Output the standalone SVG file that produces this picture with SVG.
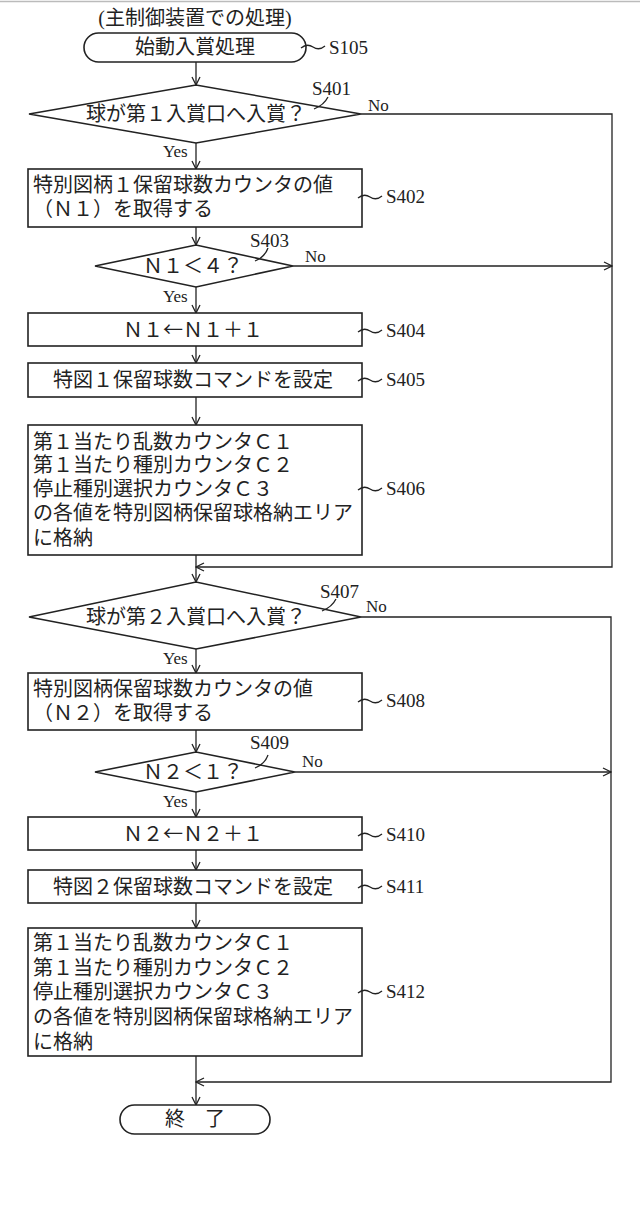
<svg xmlns="http://www.w3.org/2000/svg" width="640" height="1220" viewBox="0 0 640 1220">
<style>
text{font-family:"Liberation Serif","Noto Sans CJK JP",serif;fill:#222}
.t{font-size:20px}
.c{text-anchor:middle}
.l{font-size:19px}
.s{font-size:17px}
.j{font-family:"Noto Sans CJK JP",serif}
.n{fill:#fff;stroke:#222;stroke-width:1.6}
.e{fill:none;stroke:#222;stroke-width:1.3}
</style>
<defs>
<marker id="a" markerWidth="10" markerHeight="10" refX="9" refY="5" orient="auto" markerUnits="userSpaceOnUse">
<path d="M1,1 L9,5 L1,9" fill="none" stroke="#222" stroke-width="1.3"/>
</marker>
</defs>
<line x1="0" y1="1.5" x2="640" y2="1.5" stroke="#bbb" stroke-width="1.5"/>
<text class="t c" x="195" y="25">(主制御装置での処理)</text>
<g id="connectors" class="e">
<line x1="196" y1="62" x2="196" y2="85" marker-end="url(#a)"/>
<line x1="196" y1="143" x2="196" y2="169" marker-end="url(#a)"/>
<polyline points="361,114 612,114 612,567 196,567" marker-end="url(#a)"/>
<line x1="196" y1="227" x2="196" y2="245" marker-end="url(#a)"/>
<line x1="293" y1="266" x2="612" y2="266" marker-end="url(#a)"/>
<line x1="196" y1="287" x2="196" y2="313" marker-end="url(#a)"/>
<line x1="196" y1="346" x2="196" y2="363" marker-end="url(#a)"/>
<line x1="196" y1="397" x2="196" y2="425" marker-end="url(#a)"/>
<line x1="196" y1="555" x2="196" y2="582" marker-end="url(#a)"/>
<line x1="196" y1="649" x2="196" y2="673" marker-end="url(#a)"/>
<polyline points="361,617 611,617 611,1082 196,1082" marker-end="url(#a)"/>
<line x1="196" y1="730" x2="196" y2="752" marker-end="url(#a)"/>
<line x1="295" y1="772" x2="611" y2="772" marker-end="url(#a)"/>
<line x1="196" y1="792" x2="196" y2="817" marker-end="url(#a)"/>
<line x1="196" y1="850" x2="196" y2="870" marker-end="url(#a)"/>
<line x1="196" y1="903" x2="196" y2="928" marker-end="url(#a)"/>
<line x1="196" y1="1056" x2="196" y2="1105" marker-end="url(#a)"/>
</g>
<g id="S105"><rect class="n" x="84" y="33" width="222" height="29" rx="14.5"/><text class="t c" x="195" y="54">始動入賞処理</text>
<path class="e" d="M301,48 q6,-5 12,-1 t12,-1"/><text class="l" x="329" y="54">S105</text></g>
<g id="S401"><polygon class="n" points="29,114 196,85 361,114 196,143"/><text class="t c" x="196" y="121">球が第１入賞口へ入賞？</text>
<path class="e" d="M314,109 q10,-4 14,-12"/><text class="l" x="312" y="95">S401</text><text class="s" x="368" y="111">No</text><text class="s" x="163" y="157">Yes</text></g>
<g id="S402"><rect class="n" x="28" y="169" width="334" height="58"/><text class="t" x="33" y="192">特別図柄１保留球数カウンタの値</text><text class="t" x="33" y="216">（Ｎ１）を取得する</text>
<path class="e" d="M358,198 q6,-5 12,-1 t12,-1"/><text class="l" x="386" y="203">S402</text></g>
<g id="S403"><polygon class="n" points="95,266 196,245 293,266 196,287"/><text class="t c" x="193" y="273">Ｎ１＜４？</text>
<path class="e" d="M255,261 q10,-4 13,-13"/><text class="l" x="250" y="247">S403</text><text class="s" x="305" y="262">No</text><text class="s" x="163" y="302">Yes</text></g>
<g id="S404"><rect class="n" x="28" y="313" width="334" height="33"/><text class="t c" x="193" y="337">Ｎ１<tspan class="j">←</tspan>Ｎ１＋１</text>
<path class="e" d="M358,332 q6,-5 12,-1 t12,-1"/><text class="l" x="386" y="337">S404</text></g>
<g id="S405"><rect class="n" x="28" y="363" width="334" height="34"/><text class="t c" x="193" y="387">特図１保留球数コマンドを設定</text>
<path class="e" d="M358,381 q6,-5 12,-1 t12,-1"/><text class="l" x="386" y="386">S405</text></g>
<g id="S406"><rect class="n" x="28" y="425" width="334" height="130"/>
<text class="t" x="33" y="449">第１当たり乱数カウンタＣ１</text><text class="t" x="33" y="472">第１当たり種別カウンタＣ２</text><text class="t" x="33" y="496">停止種別選択カウンタＣ３</text><text class="t" x="33" y="520">の各値を特別図柄保留球格納エリア</text><text class="t" x="33" y="545">に格納</text>
<path class="e" d="M358,490 q6,-5 12,-1 t12,-1"/><text class="l" x="386" y="495">S406</text></g>
<g id="S407"><polygon class="n" points="29,617 196,582 361,617 196,649"/><text class="t c" x="196" y="624">球が第２入賞口へ入賞？</text>
<path class="e" d="M322,611 q10,-4 14,-12"/><text class="l" x="320" y="598">S407</text><text class="s" x="366" y="612">No</text><text class="s" x="163" y="664">Yes</text></g>
<g id="S408"><rect class="n" x="28" y="673" width="334" height="57"/><text class="t" x="33" y="696">特別図柄保留球数カウンタの値</text><text class="t" x="33" y="720">（Ｎ２）を取得する</text>
<path class="e" d="M358,702 q6,-5 12,-1 t12,-1"/><text class="l" x="386" y="707">S408</text></g>
<g id="S409"><polygon class="n" points="95,772 196,752 295,772 196,792"/><text class="t c" x="193" y="779">Ｎ２＜１？</text>
<path class="e" d="M255,768 q10,-4 13,-13"/><text class="l" x="250" y="749">S409</text><text class="s" x="302" y="767">No</text><text class="s" x="163" y="807">Yes</text></g>
<g id="S410"><rect class="n" x="28" y="817" width="334" height="33"/><text class="t c" x="193" y="841">Ｎ２<tspan class="j">←</tspan>Ｎ２＋１</text>
<path class="e" d="M358,836 q6,-5 12,-1 t12,-1"/><text class="l" x="386" y="841">S410</text></g>
<g id="S411"><rect class="n" x="28" y="870" width="334" height="33"/><text class="t c" x="193" y="894">特図２保留球数コマンドを設定</text>
<path class="e" d="M358,888 q6,-5 12,-1 t12,-1"/><text class="l" x="386" y="893">S411</text></g>
<g id="S412"><rect class="n" x="28" y="928" width="334" height="128"/>
<text class="t" x="33" y="950">第１当たり乱数カウンタＣ１</text><text class="t" x="33" y="975">第１当たり種別カウンタＣ２</text><text class="t" x="33" y="999">停止種別選択カウンタＣ３</text><text class="t" x="33" y="1024">の各値を特別図柄保留球格納エリア</text><text class="t" x="33" y="1049">に格納</text>
<path class="e" d="M358,993 q6,-5 12,-1 t12,-1"/><text class="l" x="386" y="998">S412</text></g>
<g id="end"><rect class="n" x="120" y="1105" width="150" height="29" rx="14.5"/><text class="t c" x="195" y="1126">終　了</text></g>
</svg>
